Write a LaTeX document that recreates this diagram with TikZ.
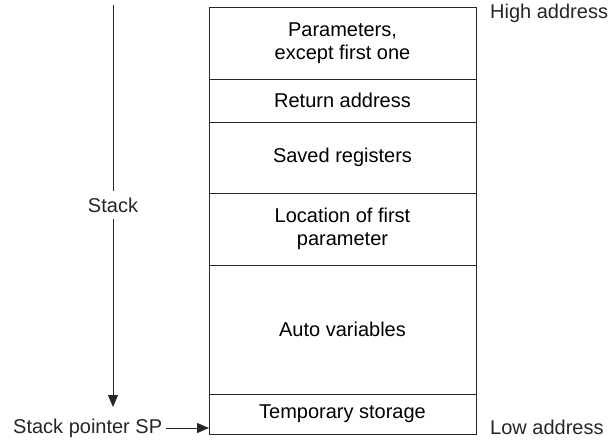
\documentclass[tikz,border=0pt]{standalone}
\usepackage{fontspec}
\setmainfont{Liberation Sans}
\usetikzlibrary{arrows.meta, positioning, calc}

\begin{document}
\begin{tikzpicture}[
        x=1pt, y=-1pt,
        node distance=0pt,
        font=\fontsize{20}{23}\selectfont,
        frame/.style={rectangle, draw=black!85, line width=1pt, outer sep=0pt,
            minimum width=267pt, align=center, inner sep=0pt},
        label/.style={inner sep=0pt, text=black!85},
        pointer/.style={draw=black!85, line width=1pt, -{Triangle[length=12pt, width=10pt]}}
    ]
        \useasboundingbox (0,0) rectangle (610,440);

        % the frame, top to bottom
        \node[frame, minimum height=72pt, anchor=north west] (params) at (209,7)
            {Parameters,\\except first one};
        \node[frame, minimum height=43pt, below=of params] (ret) {Return address};
        \node[frame, minimum height=71pt, below=of ret] (saved) {Saved registers};
        \node[frame, minimum height=72pt, below=of saved] (first)
            {Location of first\\parameter};
        \node[frame, minimum height=129pt, below=of first] (auto) {Auto variables};
        \node[frame, minimum height=40pt, below=of auto] (temp) {Temporary storage};

        \node[label, anchor=west] (high) at (490,13) {High address};
        \node[label, anchor=west] (low) at (490,427) {Low address};

        % growth of the stack
        \coordinate (top) at (113,5);
        \coordinate (bottom) at (113,407);
        \node[label, fill=white, inner ysep=6pt] (stack) at (113,205) {Stack};
        \draw[draw=black!85, line width=1pt] (top) -- (stack);
        \draw[pointer] (stack) -- (bottom);

        \node[label, anchor=west] (sp) at (13,428) {Stack pointer SP};
        \draw[pointer] (sp.east) ++(4,0) -- (temp.west |- sp.east);
    \end{tikzpicture}
\end{document}
